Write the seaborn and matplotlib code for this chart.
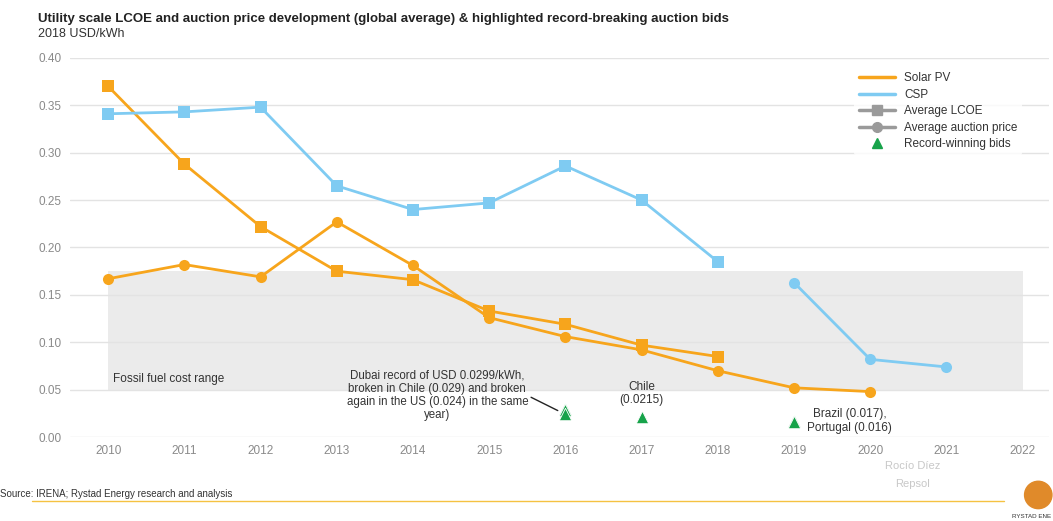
import pandas as pd
import numpy as np
import matplotlib.pyplot as plt
import seaborn as sns
from matplotlib.lines import Line2D
from matplotlib.patches import Ellipse

# Values (2018 USD/kWh)
pv_lcoe_years = [2010, 2011, 2012, 2013, 2014, 2015, 2016, 2017, 2018]
pv_lcoe = [0.370, 0.288, 0.222, 0.175, 0.166, 0.133, 0.119, 0.097, 0.085]

pv_auction_years = [2010, 2011, 2012, 2013, 2014, 2015, 2016, 2017, 2018, 2019, 2020]
pv_auction = [0.167, 0.182, 0.169, 0.227, 0.181, 0.126, 0.106, 0.092, 0.070, 0.052, 0.048]

csp_lcoe_years = [2010, 2011, 2012, 2013, 2014, 2015, 2016, 2017, 2018]
csp_lcoe = [0.341, 0.343, 0.348, 0.265, 0.240, 0.247, 0.286, 0.250, 0.185]

csp_auction_years = [2019, 2020, 2021]
csp_auction = [0.163, 0.082, 0.074]

record_years = [2016, 2016, 2016, 2017, 2019, 2019]
record_bids = [0.0299, 0.029, 0.024, 0.0215, 0.017, 0.016]

fossil_low, fossil_high = 0.05, 0.175
year_ticks = list(range(2010, 2023))

ORANGE = '#F7A51C'
BLUE = '#7FCBF2'
GREEN = '#17A34A'

frames = []
for yrs, vals, tech, metric in [(pv_lcoe_years, pv_lcoe, 'Solar PV', 'LCOE'),
                                (pv_auction_years, pv_auction, 'Solar PV', 'Auction'),
                                (csp_lcoe_years, csp_lcoe, 'CSP', 'LCOE'),
                                (csp_auction_years, csp_auction, 'CSP', 'Auction')]:
    frames.append(pd.DataFrame({'year': yrs, 'value': vals, 'tech': tech, 'metric': metric}))
df = pd.concat(frames, ignore_index=True)
bids = pd.DataFrame({'year': record_years, 'value': record_bids})

sns.set_theme(style='white')
plt.rcParams['font.family'] = ['Liberation Sans', 'DejaVu Sans']

fig = plt.figure(figsize=(10.53, 5.21), dpi=100)
ax = fig.add_axes([0.0665, 0.161, 0.93, 0.728])

# fossil fuel cost range band
ax.fill_between([2010, 2022], fossil_low, fossil_high, color='#EBEBEB', zorder=0, lw=0)

sns.lineplot(data=df, x='year', y='value', hue='tech', style='metric',
             units='metric', estimator=None,
             palette={'Solar PV': ORANGE, 'CSP': BLUE},
             markers={'LCOE': 's', 'Auction': 'o'}, dashes=False,
             linewidth=2, markersize=8, markeredgewidth=0, legend=False, ax=ax, zorder=3)

sns.scatterplot(data=bids, x='year', y='value', marker='^', color=GREEN, s=80,
                edgecolor='white', linewidth=0.6, legend=False, ax=ax, zorder=4)

ax.set_xlim(2009.5, 2022.35)
ax.set_ylim(0, 0.40)
ax.set_xticks(year_ticks)
ax.set_yticks(np.arange(0, 0.41, 0.05))
ax.set_yticklabels([f'{v:.2f}' for v in np.arange(0, 0.41, 0.05)])
ax.grid(axis='y', color='#E3E3E3', lw=1)
ax.set_axisbelow(True)
for s in ax.spines.values():
    s.set_visible(False)
ax.tick_params(axis='both', colors='#8A8A8A', labelsize=8.5, length=0, pad=6)
ax.set_xlabel('')
ax.set_ylabel('')

# annotations
ax.text(2010.07, 0.061, 'Fossil fuel cost range', fontsize=8.5, color='#333333', va='center')
ax.text(2014.32, 0.044, 'Dubai record of USD 0.0299/kWh,\nbroken in Chile (0.029) and broken\nagain in the US (0.024) in the same\nyear)',
        ha='center', va='center', fontsize=8.3, color='#333333', linespacing=1.15)
ax.plot([2015.55, 2015.9], [0.042, 0.028], color='#222222', lw=1)
ax.text(2017.0, 0.046, 'Chile\n(0.0215)', ha='center', va='center', fontsize=8.5,
        color='#333333', linespacing=1.15)
ax.text(2019.73, 0.017, 'Brazil (0.017),\nPortugal (0.016)', ha='center', va='center', fontsize=8.5,
        color='#333333', linespacing=1.15)

# legend
handles = [Line2D([], [], color=ORANGE, lw=2.5),
           Line2D([], [], color=BLUE, lw=2.5),
           Line2D([], [], color='#9A9A9A', lw=2.5, marker='s', markersize=7),
           Line2D([], [], color='#9A9A9A', lw=2.5, marker='o', markersize=7),
           Line2D([], [], color=GREEN, lw=0, marker='^', markersize=7)]
labels = ['Solar PV', 'CSP', 'Average LCOE', 'Average auction price', 'Record-winning bids']
leg = ax.legend(handles, labels, loc='upper left', bbox_to_anchor=(0.795, 0.99), frameon=True,
                fontsize=8.5, handlelength=3, labelspacing=0.38, borderpad=0.4)
leg.get_frame().set_facecolor('white')
leg.get_frame().set_edgecolor('none')
for t in leg.get_texts():
    t.set_color('#333333')

# titles
fig.text(0.036, 0.963, 'Utility scale LCOE and auction price development (global average) & highlighted record-breaking auction bids',
         fontsize=9.5, fontweight='bold', color='#222222', va='center')
fig.text(0.036, 0.935, '2018 USD/kWh', fontsize=9, color='#333333', va='center')

# footer
fig.text(0.0, 0.052, 'Source: IRENA; Rystad Energy research and analysis', fontsize=7, color='#333333',
         va='center', ha='left')
fig.add_artist(Line2D([0.03, 0.953], [0.038, 0.038], color='#F5C242', lw=1, transform=fig.transFigure))
fig.text(0.867, 0.106, 'Rocío Díez', fontsize=8, color='#C8C8C8', ha='center', va='center')
fig.text(0.867, 0.071, 'Repsol', fontsize=8, color='#C8C8C8', ha='center', va='center')
fig.add_artist(Ellipse((0.986, 0.05), 0.026, 0.026 * 1053 / 521, transform=fig.transFigure,
                       color='#E08A2A'))
fig.text(0.998, 0.004, 'RYSTAD ENE', fontsize=4.5, color='#333333', ha='right', va='bottom')

fig.savefig('out.png', dpi=100)
